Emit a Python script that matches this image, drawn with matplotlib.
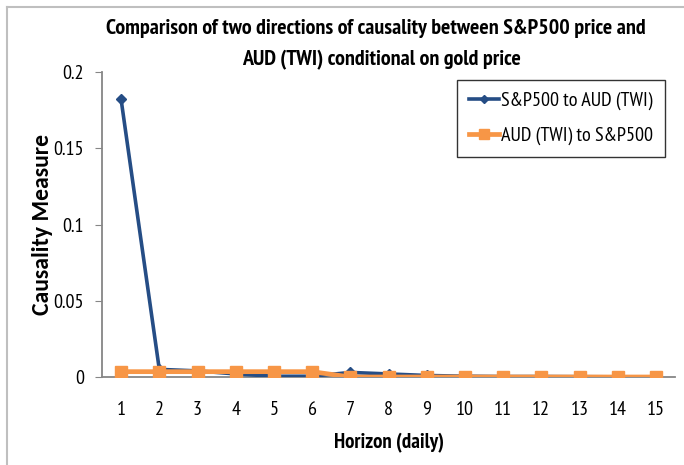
import matplotlib
matplotlib.use("Agg")
import matplotlib.pyplot as plt
from matplotlib.lines import Line2D

plt.rcParams['font.family'] = ['PT Sans Narrow', 'Carlito', 'DejaVu Sans']

horizon = list(range(1, 16))
sp_to_aud = [0.182, 0.005, 0.004, 0.002, 0.0005, 0.0005, 0.003, 0.002, 0.001,
             0.0005, 0.0003, 0.0003, 0.0002, 0.0001, 0.0001]
aud_to_sp = [0.0035, 0.0035, 0.0035, 0.0035, 0.0035, 0.0035, 0.0, 0.0, 0.0,
             0.0, 0.0, 0.0, 0.0, 0.0, 0.0]
yticks = [0, 0.05, 0.1, 0.15, 0.2]
ytick_labels = ['0', '0.05', '0.1', '0.15', '0.2']

blue = '#254D85'
orange = '#F79646'

fig = plt.figure(figsize=(6.84, 4.65), dpi=100)
ax = fig.add_axes([102 / 684, 88 / 465, 573 / 684, 305 / 465])

ax.plot(horizon, sp_to_aud, color=blue, lw=2.6, marker='D', ms=5,
        label='S&P500 to AUD (TWI)', zorder=3)
ax.plot(horizon, aud_to_sp, color=orange, lw=3.4, marker='s', ms=9,
        label='AUD (TWI) to S&P500', zorder=4)

ax.set_xlim(0.5, 15.5)
ax.set_ylim(0, 0.2)
ax.set_xticks(horizon)
ax.set_yticks(yticks)
ax.set_yticklabels(ytick_labels)
ax.tick_params(axis='x', length=0, labelsize=14.5, pad=17)
ax.tick_params(axis='y', length=5, color='#868686', labelsize=14.5, pad=8)
for s in ['top', 'right']:
    ax.spines[s].set_visible(False)
for s in ['left', 'bottom']:
    ax.spines[s].set_color('#868686')
    ax.spines[s].set_linewidth(1.3)

ax.set_xlabel('Horizon (daily)', fontsize=15, fontweight='bold', labelpad=10)
ax.set_ylabel('Causality Measure', fontsize=17, fontweight='bold', labelpad=0,
              family=['Carlito', 'DejaVu Sans'])

fig.text(0.550, 1 - 28 / 465, 'Comparison of two directions of causality between S&P500 price and',
         ha='center', va='center', fontsize=15.8, fontweight='bold')
fig.text(0.558, 1 - 60 / 465, 'AUD (TWI) conditional on gold price',
         ha='center', va='center', fontsize=15.8, fontweight='bold')

leg = ax.legend(loc='upper right', bbox_to_anchor=(665 / 684, 1 - 80 / 465),
                bbox_transform=fig.transFigure, fontsize=14.5, fancybox=False,
                edgecolor='#333333', framealpha=1, borderaxespad=0,
                handlelength=1.5, handletextpad=0.1, labelspacing=0.8,
                borderpad=0.6, markerscale=0.8)
leg.get_frame().set_linewidth(1.0)

# outer chart border (left and top visible)
fig.add_artist(Line2D([7 / 684, 7 / 684], [0, 1 - 7 / 465], transform=fig.transFigure,
                      color='#BFBFBF', lw=1.5))
fig.add_artist(Line2D([7 / 684, 1], [1 - 7 / 465, 1 - 7 / 465], transform=fig.transFigure,
                      color='#BFBFBF', lw=1.5))

fig.savefig('out.png', dpi=100)
